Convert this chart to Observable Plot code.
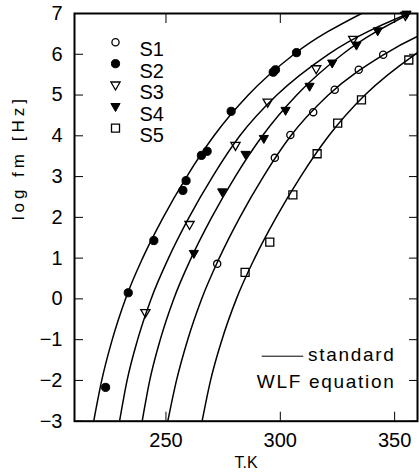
<!DOCTYPE html>
<html><head><meta charset="utf-8">
<script src="https://cdn.jsdelivr.net/npm/d3@7"></script>
<script src="https://cdn.jsdelivr.net/npm/@observablehq/plot@0.6"></script>
<style>
html,body{margin:0;padding:0;background:#fff;}
#chart svg{display:block;}
</style></head><body><div id="chart"></div>
<script>
// axes
const xDomain = [210, 360];
const yDomain = [-3, 7];
const xTicks = [250, 300, 350];
const yTicks = [-3, -2, -1, 0, 1, 2, 3, 4, 5, 6, 7];
const seriesNames = ["S1", "S2", "S3", "S4", "S5"];

// measured points (T in K, log fm)
const s1T = [272.4, 297.6, 304.4, 314.4, 323.8, 334.3, 345.0];
const s1F = [0.86, 3.46, 4.02, 4.58, 5.13, 5.62, 5.99];
const s2T = [223.6, 233.5, 244.7, 257.4, 258.8, 265.5, 268.0, 278.5, 296.9, 297.9, 307.1];
const s2F = [-2.17, 0.15, 1.43, 2.66, 2.90, 3.52, 3.62, 4.60, 5.56, 5.62, 6.04];
const s3T = [241.0, 260.3, 280.4, 294.5, 315.7, 331.9, 354.7];
const s3F = [-0.34, 1.82, 3.76, 4.82, 5.64, 6.36, 6.95];
const s4T = [262.2, 274.6, 284.8, 292.8, 302.3, 312.8, 322.7, 333.3, 342.6, 355.2];
const s4F = [1.11, 2.62, 3.54, 3.93, 4.62, 5.21, 5.78, 6.22, 6.57, 6.98];
const s5T = [284.6, 295.4, 305.5, 316.1, 325.1, 335.5, 356.2];
const s5F = [0.65, 1.39, 2.55, 3.56, 4.31, 4.88, 5.86];

// standard WLF equation curves (T at each log fm level)
const wlfF = [-3, -2, -1, 0, 1, 2, 3, 4, 5, 6, 7];
const wlf1T = [250.8, 254.6, 259.5, 265.6, 273.3, 282.3, 292.6, 304.6, 321.0, 345.5, 385.0];
const wlf2T = [218.4, 221.9, 226.5, 232.3, 239.8, 248.8, 259.1, 271.0, 286.0, 306.0, 335.5];
const wlf3T = [229.7, 233.0, 237.6, 243.5, 251.1, 260.1, 270.4, 282.3, 298.5, 321.0, 356.0];
const wlf4T = [239.6, 242.9, 247.5, 253.4, 261.0, 270.0, 280.3, 292.2, 307.2, 327.2, 356.7];
const wlf5T = [265.8, 269.5, 274.5, 280.8, 288.8, 298.2, 308.9, 321.2, 337.0, 359.0, 392.0];

const legendLine = ["standard", "WLF equation"];

const triDown = {draw(ctx, size) {
  const s = Math.sqrt(size / Math.PI);
  ctx.moveTo(-1.15 * s, -0.8 * s); ctx.lineTo(1.15 * s, -0.8 * s); ctx.lineTo(0, 1.2 * s); ctx.closePath();
}};
const square = {draw(ctx, size) {
  const s = Math.sqrt(size / Math.PI);
  ctx.rect(-s, -s, 2 * s, 2 * s);
}};
const styles = {
  S1: {symbol: "circle", r: 3.6, fill: "none", stroke: "black", strokeWidth: 1.3},
  S2: {symbol: "circle", r: 4.1, fill: "black", stroke: "black", strokeWidth: 1},
  S3: {symbol: triDown, r: 4, fill: "none", stroke: "black", strokeWidth: 1.3},
  S4: {symbol: triDown, r: 4, fill: "black", stroke: "black", strokeWidth: 1},
  S5: {symbol: square, r: 4, fill: "none", stroke: "black", strokeWidth: 1.3}
};

const pointSets = {S1: [s1T, s1F], S2: [s2T, s2F], S3: [s3T, s3F], S4: [s4T, s4F], S5: [s5T, s5F]};
const curveSets = {S1: wlf1T, S2: wlf2T, S3: wlf3T, S4: wlf4T, S5: wlf5T};

const curves = [];
for (const k of seriesNames) {
  curveSets[k].forEach((t, i) => curves.push({series: k, T: t, logf: wlfF[i]}));
}

const marks = [];
marks.push(Plot.line(curves, {x: "T", y: "logf", z: "series", curve: "monotone-x", stroke: "black", strokeWidth: 1.5, clip: true}));
seriesNames.forEach((k, idx) => {
  const [T, F] = pointSets[k];
  const data = T.map((t, i) => ({T: t, logf: F[i]}));
  marks.push(Plot.dot(data, {x: "T", y: "logf", ...styles[k]}));
  // legend
  marks.push(Plot.dot([k], {frameAnchor: "top-left", dx: 41, dy: 28.7 + idx * 21.5, ...styles[k]}));
  marks.push(Plot.text([k], {frameAnchor: "top-left", text: d => d, dx: 65, dy: 28.7 + idx * 21.5, textAnchor: "start", fontSize: 20}));
});

marks.push(Plot.ruleY([yDomain[0]], {dy: -65, insetLeft: 187.7, insetRight: 113.7, strokeWidth: 1}));
marks.push(Plot.text([legendLine[0]], {frameAnchor: "bottom-right", text: d => d, dx: -22, dy: -60, textAnchor: "end", fontSize: 19}));
marks.push(Plot.text([legendLine[1]], {frameAnchor: "bottom-right", text: d => d, dx: -22, dy: -33, textAnchor: "end", fontSize: 19}));

marks.push(Plot.axisX({anchor: "bottom", ticks: xTicks, tickSize: -9, tickPadding: 21, fontSize: 20, label: null}));
marks.push(Plot.axisX({anchor: "top", ticks: xTicks, tickSize: -9, tickFormat: () => "", label: null}));
marks.push(Plot.axisY({anchor: "left", ticks: yTicks, tickSize: -9, tickPadding: 21, fontSize: 20, label: null}));
marks.push(Plot.axisY({anchor: "right", ticks: yTicks, tickSize: -9, tickFormat: () => "", label: null}));
marks.push(Plot.text(["log fm [Hz]"], {frameAnchor: "left", text: d => d, dx: -56, dy: 3, rotate: -90, fontSize: 17}));
marks.push(Plot.text(["T.K"], {frameAnchor: "bottom", text: d => d, dy: 46.5, fontSize: 16}));
marks.push(Plot.frame({stroke: "black", strokeWidth: 2}));

const chart = Plot.plot({
  width: 419, height: 476,
  marginLeft: 74, marginRight: 2, marginTop: 13, marginBottom: 55.3,
  style: {fontFamily: "'Liberation Sans', Arial, sans-serif", fontSize: "20px", color: "black", background: "white", overflow: "visible"},
  x: {domain: xDomain},
  y: {domain: yDomain},
  marks
});
chart.querySelectorAll("text").forEach(t => {
  const s = t.textContent;
  if (s === "log fm [Hz]") t.style.letterSpacing = "4px";
  if (s === "standard" || s === "WLF equation") t.style.letterSpacing = "1.7px";
});
document.getElementById("chart").appendChild(chart);
</script></body></html>
